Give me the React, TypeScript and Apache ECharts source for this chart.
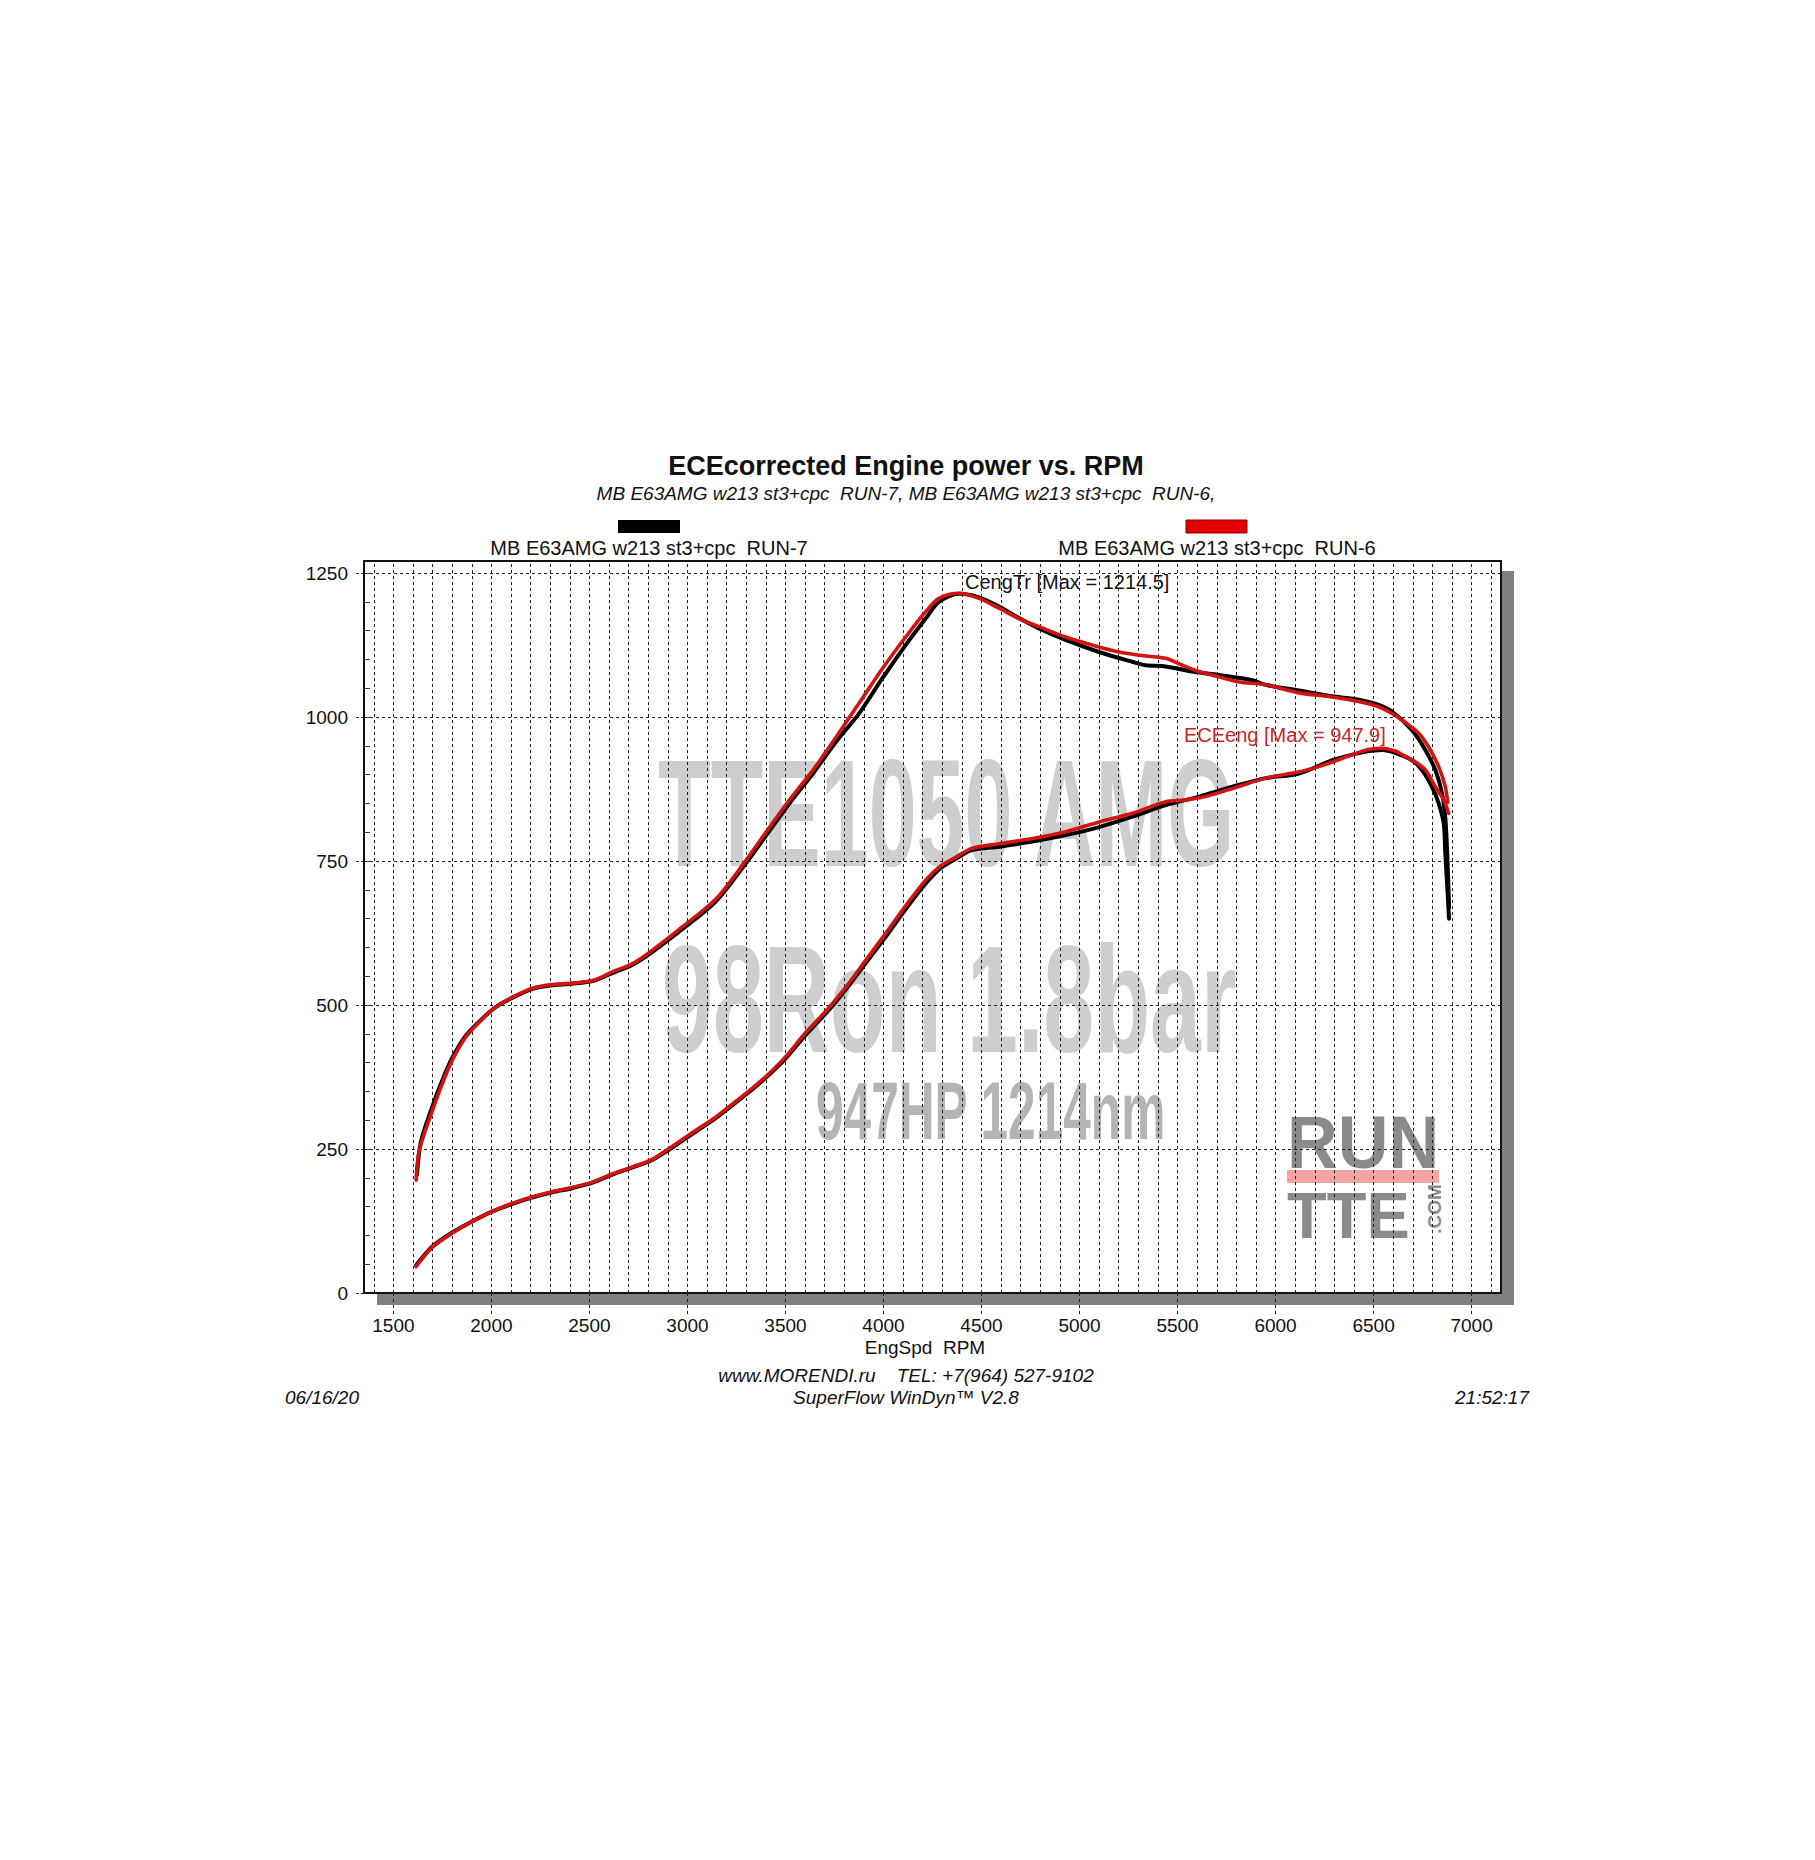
import React, { useEffect, useRef } from 'react';
import * as echarts from 'echarts';

const FONT = '"Liberation Sans", Arial, Helvetica, sans-serif';

// ---- Data (read from the dyno sheet) ----
const run6TorqueRpm = [1616, 1632, 1700, 1750, 1800, 1870, 1940, 2020, 2110, 2210, 2300, 2410, 2520, 2620, 2720, 2820, 2975, 3145, 3300, 3400, 3520, 3640, 3760, 3875, 3994, 4113, 4215, 4283, 4385, 4487, 4589, 4691, 4793, 4929, 5065, 5201, 5337, 5439, 5524, 5609, 5711, 5813, 5949, 6119, 6288, 6424, 6526, 6600, 6645, 6730, 6781, 6832, 6866, 6878];
const run6Torque = [196, 248, 318, 364, 404, 445, 471, 496, 514, 529, 535, 538, 543, 558, 572, 595, 636, 684, 752, 800, 856, 908, 966, 1024, 1084, 1139, 1183, 1206, 1215, 1206, 1189, 1171, 1157, 1139, 1125, 1113, 1106, 1102, 1090, 1079, 1070, 1061, 1056, 1042, 1035, 1027, 1018, 1005, 995, 972, 948, 914, 879, 852];

const run7TorqueRpm = [1620, 1640, 1700, 1750, 1800, 1870, 1940, 2020, 2110, 2210, 2300, 2410, 2520, 2620, 2720, 2820, 2975, 3145, 3300, 3400, 3520, 3640, 3760, 3875, 3994, 4113, 4215, 4283, 4385, 4487, 4589, 4691, 4793, 4929, 5099, 5269, 5337, 5439, 5575, 5711, 5881, 5949, 6119, 6288, 6424, 6526, 6600, 6696, 6764, 6815, 6849, 6866, 6876, 6885];
const run7Torque = [205, 262, 325, 370, 408, 447, 472, 496, 513, 528, 534, 537, 542, 556, 570, 592, 632, 680, 747, 794, 850, 902, 958, 1006, 1067, 1125, 1171, 1200, 1214, 1208, 1192, 1172, 1154, 1134, 1113, 1096, 1090, 1088, 1079, 1073, 1064, 1056, 1046, 1036, 1030, 1021, 1008, 977, 943, 908, 868, 825, 760, 670];

const run6PowerRpm = [1616, 1700, 1800, 1900, 2000, 2110, 2210, 2310, 2410, 2520, 2620, 2720, 2820, 2920, 3010, 3130, 3210, 3300, 3400, 3500, 3600, 3710, 3810, 3910, 4010, 4110, 4215, 4285, 4370, 4450, 4590, 4760, 4930, 5100, 5270, 5440, 5540, 5640, 5780, 5950, 6120, 6220, 6290, 6410, 6480, 6545, 6610, 6650, 6713, 6765, 6815, 6858, 6883];
const run6Power = [46, 80, 104, 124, 141, 156, 167, 176, 183, 193, 207, 219, 232, 254, 275, 302, 323, 347, 376, 410, 451, 491, 532, 578, 624, 671, 717, 740, 757, 772, 780, 789, 801, 818, 833, 853, 856, 862, 876, 894, 905, 914, 922, 937, 944, 946, 941, 934, 922, 908, 879, 856, 833];

const run7PowerRpm = [1616, 1700, 1800, 1900, 2000, 2110, 2210, 2310, 2410, 2520, 2620, 2720, 2820, 2920, 3010, 3130, 3210, 3300, 3400, 3500, 3600, 3710, 3810, 3910, 4010, 4110, 4215, 4285, 4370, 4450, 4590, 4760, 4930, 5100, 5270, 5440, 5610, 5780, 5950, 6120, 6290, 6460, 6545, 6610, 6696, 6747, 6798, 6832, 6858, 6866, 6876, 6885];
const run7Power = [48, 81, 105, 124, 141, 155, 166, 175, 182, 192, 206, 218, 231, 252, 273, 300, 321, 345, 374, 407, 447, 487, 528, 573, 618, 665, 711, 736, 754, 769, 775, 784, 795, 809, 827, 847, 862, 879, 894, 902, 925, 940, 943, 938, 925, 908, 879, 850, 815, 763, 705, 650];

const xTickLabels = [1500, 2000, 2500, 3000, 3500, 4000, 4500, 5000, 5500, 6000, 6500, 7000];
const yTickLabels = [0, 250, 500, 750, 1000, 1250];

const titleText = 'ECEcorrected Engine power vs. RPM';
const subtitleText = 'MB E63AMG w213 st3+cpc  RUN-7, MB E63AMG w213 st3+cpc  RUN-6,';
const run7Label = 'MB E63AMG w213 st3+cpc  RUN-7';
const run6Label = 'MB E63AMG w213 st3+cpc  RUN-6';
const torqueNote = 'CengTr [Max = 1214.5]';
const powerNote = 'ECEeng [Max = 947.9]';
const xAxisTitle = 'EngSpd  RPM';
const footer1 = 'www.MORENDI.ru    TEL: +7(964) 527-9102';
const footer2 = 'SuperFlow WinDyn\u2122 V2.8';
const dateText = '06/16/20';
const timeText = '21:52:17';

const RED = '#d41212';
const SHADOW = '#7f7f7f';

function zip(x: number[], y: number[]) {
  return x.map((v, i) => [v, y[i]]);
}

function range(a: number, b: number, step: number) {
  const out: number[] = [];
  for (let v = a; v <= b; v += step) out.push(v);
  return out;
}

function txt(text: string, x: number, y: number, opts: any = {}) {
  return {
    type: 'text',
    x,
    y,
    z: opts.z ?? 10,
    scaleX: opts.scaleX ?? 1,
    rotation: opts.rotation ?? 0,
    silent: true,
    style: {
      text,
      x: 0,
      y: 0,
      fill: opts.fill ?? '#111',
      fontSize: opts.fontSize ?? 20,
      fontFamily: FONT,
      fontWeight: opts.fontWeight ?? 'normal',
      fontStyle: opts.fontStyle ?? 'normal',
      align: opts.align ?? 'center',
      verticalAlign: 'middle',
    },
  };
}

function buildOption() {
  const gridX = range(1400, 7100, 100);
  const gridY = [250, 500, 750, 1000, 1250];
  const yMinor = range(50, 1250, 50);
  const plain = (v: number) => String(v);

  const lineSeries = (name: string, data: number[][], color: string, width: number, z: number) => ({
    type: 'line',
    name,
    data,
    showSymbol: false,
    symbol: 'none',
    smooth: 0.3,
    silent: true,
    z,
    lineStyle: { color, width, cap: 'round', join: 'round' },
  });

  return {
    animation: false,
    backgroundColor: '#ffffff',
    textStyle: { fontFamily: FONT },
    grid: {
      left: 364,
      top: 561,
      width: 1137,
      height: 732,
      show: true,
      borderColor: '#111',
      borderWidth: 2,
      backgroundColor: 'transparent',
    },
    xAxis: {
      type: 'value',
      min: 1350,
      max: 7150,
      axisLine: { show: false },
      splitLine: { show: false },
      axisTick: {
        show: true,
        customValues: xTickLabels,
        length: 21,
        lineStyle: { color: '#222', type: [3, 3], width: 1 },
      },
      axisLabel: {
        customValues: xTickLabels,
        formatter: plain,
        margin: 23,
        fontSize: 19,
        color: '#111',
        fontFamily: FONT,
      },
    },
    yAxis: [
      {
        type: 'value',
        min: 0,
        max: 1271,
        axisLine: { show: false },
        splitLine: { show: false },
        axisTick: {
          show: true,
          customValues: yTickLabels,
          length: 8,
          lineStyle: { color: '#222', type: [3, 2], width: 1 },
        },
        axisLabel: {
          customValues: yTickLabels,
          formatter: plain,
          margin: 16,
          fontSize: 19,
          color: '#111',
          fontFamily: FONT,
        },
      },
      {
        type: 'value',
        min: 0,
        max: 1271,
        position: 'left',
        axisLine: { show: false },
        splitLine: { show: false },
        axisLabel: { show: false },
        axisTick: {
          show: true,
          inside: true,
          customValues: yMinor,
          length: 6,
          lineStyle: { color: '#333', width: 1 },
        },
      },
    ],
    series: [
      {
        type: 'line',
        name: 'grid',
        data: [],
        z: 1,
        silent: true,
        markLine: {
          silent: true,
          z: 1,
          symbol: ['none', 'none'],
          label: { show: false },
          emphasis: { disabled: true },
          lineStyle: { color: '#222', type: [3, 3], width: 1 },
          data: [
            ...gridX.map((v) => ({ xAxis: v })),
            ...gridY.map((v) => ({ yAxis: v })),
          ],
        },
      },
      lineSeries('RUN-7 CengTr', zip(run7TorqueRpm, run7Torque), '#000000', 4, 3),
      lineSeries('RUN-7 ECEeng', zip(run7PowerRpm, run7Power), '#000000', 4, 3),
      lineSeries('RUN-6 CengTr', zip(run6TorqueRpm, run6Torque), RED, 3.6, 4),
      lineSeries('RUN-6 ECEeng', zip(run6PowerRpm, run6Power), RED, 3.6, 4),
    ],
    graphic: [
      // drop shadow of the plot frame
      { type: 'rect', z: 0, silent: true, shape: { x: 1502, y: 571, width: 12, height: 734 }, style: { fill: SHADOW } },
      { type: 'rect', z: 0, silent: true, shape: { x: 377, y: 1294, width: 1137, height: 11 }, style: { fill: SHADOW } },
      // watermark
      txt('TTE1050 AMG', 658, 813, { fontSize: 152, fontWeight: 'bold', fill: '#cecece', align: 'left', scaleX: 0.567, z: 0 }),
      txt('98Ron 1.8bar', 662, 999, { fontSize: 152, fontWeight: 'bold', fill: '#cecece', align: 'left', scaleX: 0.602, z: 0 }),
      txt('947HP 1214nm', 816, 1111, { fontSize: 82, fontWeight: 'bold', fill: '#b4b4b4', align: 'left', scaleX: 0.605, z: 0 }),
      // RUN TTE logo
      txt('RUN', 1287, 1142, { fontSize: 74, fontWeight: 'bold', fill: '#8a8a8a', align: 'left', scaleX: 0.95, z: 0 }),
      { type: 'rect', z: 0, silent: true, shape: { x: 1287, y: 1170, width: 152, height: 13 }, style: { fill: '#f5a3a3' } },
      txt('TTE', 1287, 1215, { fontSize: 65, fontWeight: 'bold', fill: '#8a8a8a', align: 'left', scaleX: 1.0, z: 0 }),
      txt('.COM', 1434, 1209, { fontSize: 19, fontWeight: 'bold', fill: '#8a8a8a', align: 'center', rotation: Math.PI / 2, z: 0 }),
      // titles
      txt(titleText, 906, 466, { fontSize: 27, fontWeight: 'bold' }),
      txt(subtitleText, 906, 493, { fontSize: 19, fontStyle: 'italic' }),
      // legend
      { type: 'rect', z: 10, silent: true, shape: { x: 618, y: 520, width: 62, height: 13 }, style: { fill: '#000000' } },
      { type: 'rect', z: 10, silent: true, shape: { x: 1186, y: 520, width: 61, height: 13 }, style: { fill: '#e20000', stroke: '#8a0000', lineWidth: 1 } },
      txt(run7Label, 649, 548, { fontSize: 20 }),
      txt(run6Label, 1217, 548, { fontSize: 20 }),
      // annotations
      txt(torqueNote, 965, 582, { fontSize: 20, align: 'left', fill: '#111' }),
      txt(powerNote, 1184, 735, { fontSize: 20, align: 'left', fill: '#c3262b' }),
      // axis title and footer
      txt(xAxisTitle, 925, 1347, { fontSize: 19 }),
      txt(footer1, 906, 1375, { fontSize: 19, fontStyle: 'italic' }),
      txt(footer2, 906, 1397, { fontSize: 19, fontStyle: 'italic' }),
      txt(dateText, 322, 1397, { fontSize: 19, fontStyle: 'italic' }),
      txt(timeText, 1492, 1397, { fontSize: 19, fontStyle: 'italic' }),
    ],
  };
}

export default function App() {
  const ref = useRef<HTMLDivElement | null>(null);
  useEffect(() => {
    document.body.style.margin = '0';
    if (!ref.current) return;
    const chart = echarts.init(ref.current, null, { renderer: 'svg' });
    chart.setOption(buildOption() as any);
    return () => {
      chart.dispose();
    };
  }, []);
  return <div ref={ref} style={{ width: 1815, height: 1860, background: '#ffffff' }} />;
}
